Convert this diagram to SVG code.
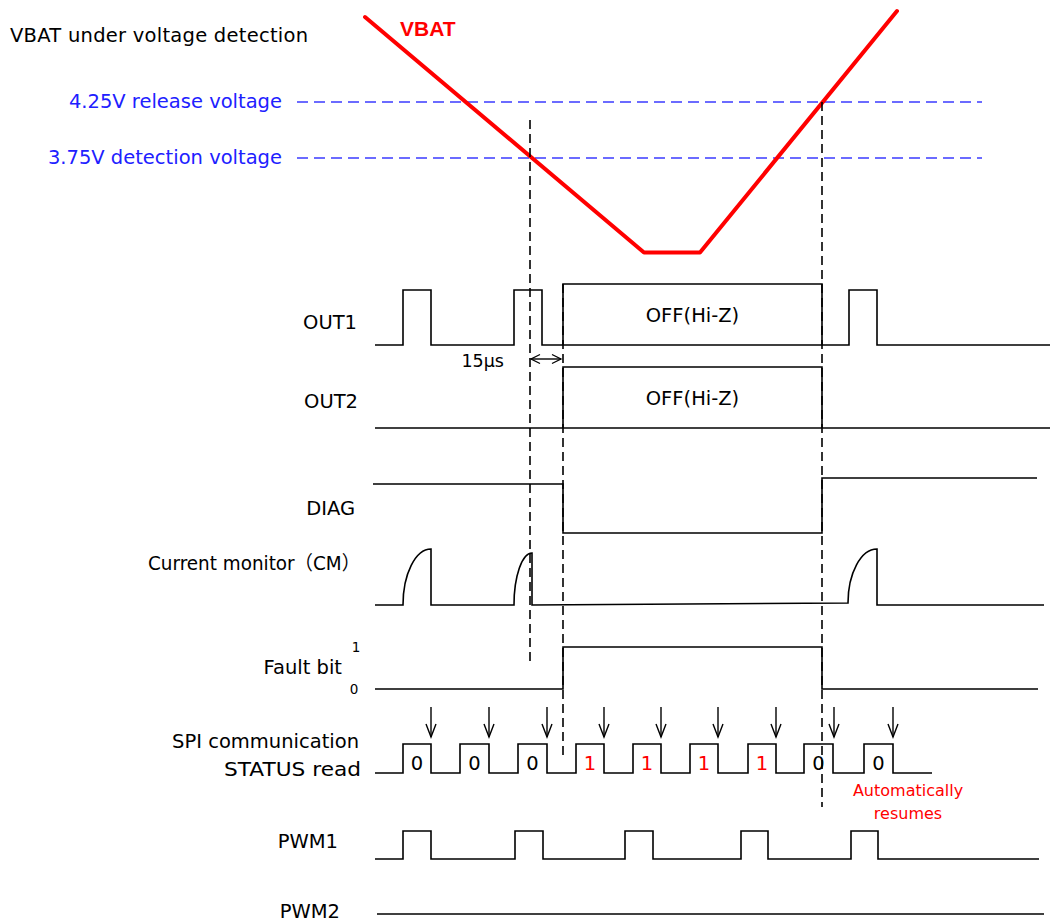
<svg xmlns="http://www.w3.org/2000/svg" width="1051" height="923" viewBox="0 0 1051 923">
<style>
text{font-family:"DejaVu Sans","Noto Sans CJK JP",sans-serif;font-size:19.5px;fill:#000}
.lbl{text-anchor:end}
.blue{fill:#2020ff}
.red{fill:#ff0000}
.mid{text-anchor:middle}
.sig{fill:none;stroke:#000;stroke-width:1.6}
.vdash{fill:none;stroke:#000;stroke-width:1.6;stroke-dasharray:9 5}
.hdash{fill:none;stroke:#3b3bff;stroke-width:1.6;stroke-dasharray:11 6}
.arr{fill:none;stroke:#000;stroke-width:1.4}
</style>
<defs>
<marker id="ah" viewBox="0 0 13 10" refX="13" refY="5" markerWidth="13" markerHeight="10" markerUnits="userSpaceOnUse" orient="auto-start-reverse" overflow="visible">
<path d="M0,0 L13,5 L0,10" fill="none" stroke="#000" stroke-width="1.4"/>
</marker>
<marker id="ahs" viewBox="0 0 9 9" refX="9" refY="4.5" markerWidth="9" markerHeight="9" markerUnits="userSpaceOnUse" orient="auto-start-reverse" overflow="visible">
<path d="M0,0 L9,4.5 L0,9" fill="none" stroke="#000" stroke-width="1.3"/>
</marker>
</defs>
<rect width="1051" height="923" fill="#fff"/>

<g id="title"><text x="10" y="42" textLength="298">VBAT under voltage detection</text></g>

<g id="thresholds">
<line class="hdash" x1="297" y1="102" x2="982" y2="102"/>
<line class="hdash" x1="297" y1="158" x2="982" y2="158"/>
<text class="lbl blue" x="282" y="108">4.25V release voltage</text>
<text class="lbl blue" x="282" y="164">3.75V detection voltage</text>
</g>

<g id="vbat">
<polyline points="365,17 644,252.5 700,252.5 897,11" fill="none" stroke="#ff0000" stroke-width="4" stroke-linecap="round" stroke-linejoin="round"/>
<text x="400" y="36" style="font-family:'Liberation Sans',Arial,sans-serif;font-weight:bold;font-size:21px;fill:#ff0000">VBAT</text>
</g>

<g id="connectors">
<line class="vdash" x1="530" y1="120" x2="530" y2="666"/>
<line class="vdash" x1="563" y1="284" x2="563" y2="757"/>
<line class="vdash" x1="822" y1="102" x2="822" y2="807"/>
<line class="arr" x1="531" y1="359" x2="561" y2="359" marker-start="url(#ahs)" marker-end="url(#ahs)"/>
<g id="spi-arrows">
<line class="arr" x1="431" y1="707" x2="431" y2="737" marker-end="url(#ah)"/>
<line class="arr" x1="489" y1="707" x2="489" y2="737" marker-end="url(#ah)"/>
<line class="arr" x1="547" y1="707" x2="547" y2="737" marker-end="url(#ah)"/>
<line class="arr" x1="604" y1="707" x2="604" y2="737" marker-end="url(#ah)"/>
<line class="arr" x1="661" y1="707" x2="661" y2="737" marker-end="url(#ah)"/>
<line class="arr" x1="718" y1="707" x2="718" y2="737" marker-end="url(#ah)"/>
<line class="arr" x1="776" y1="707" x2="776" y2="737" marker-end="url(#ah)"/>
<line class="arr" x1="834" y1="707" x2="834" y2="737" marker-end="url(#ah)"/>
<line class="arr" x1="893" y1="707" x2="893" y2="737" marker-end="url(#ah)"/>
</g>
</g>

<g id="out1">
<text class="lbl" x="357" y="329">OUT1</text>
<path class="sig" d="M375,345 H403 V290 H431 V345 H514 V290 H542 V345 H849 V290 H877 V345 H1050"/>
<path class="sig" d="M563,345 V284 H822 V345"/>
<text class="mid" x="692.5" y="322">OFF(Hi-Z)</text>
<text x="504" y="367" style="font-size:17.5px;text-anchor:end">15μs</text>
</g>

<g id="out2">
<text class="lbl" x="358" y="408">OUT2</text>
<path class="sig" d="M375,428 H1050"/>
<path class="sig" d="M563,428 V367 H822 V428"/>
<text class="mid" x="692.5" y="405">OFF(Hi-Z)</text>
</g>

<g id="diag">
<text class="lbl" x="355" y="515">DIAG</text>
<path class="sig" d="M373,484 H563 V533 H822 V478 H1037"/>
</g>

<g id="cm">
<text class="lbl" x="360" y="570" textLength="212" lengthAdjust="spacingAndGlyphs">Current monitor（CM）</text>
<path class="sig" d="M375,605 H403 A28,56 0 0 1 431,549 V605 H514 A18,52 0 0 1 532,553 V605 L848,603 A29,54 0 0 1 877,549 V605 H1044"/>
</g>

<g id="fault">
<text class="lbl" x="342" y="674">Fault bit</text>
<text class="mid" x="356" y="652" style="font-size:13.5px">1</text>
<text class="mid" x="354" y="694" style="font-size:13.5px">0</text>
<path class="sig" d="M375,689 H563 V647 H822 V689 H1038"/>
</g>

<g id="spi">
<text class="lbl" x="359" y="748">SPI communication</text>
<text class="lbl" x="361" y="776" textLength="137" lengthAdjust="spacingAndGlyphs">STATUS read</text>
<path class="sig" d="M375,773 H403 V744 H431 V773 H460 V744 H489 V773 H518 V744 H547 V773 H576 V744 H604 V773 H633 V744 H661 V773 H690 V744 H718 V773 H748 V744 H776 V773 H804 V744 H833 V773 H864 V744 H893 V773 H932"/>
<text class="mid" x="417" y="770">0</text>
<text class="mid" x="474.5" y="770">0</text>
<text class="mid" x="532.5" y="770">0</text>
<text class="mid red" x="590" y="770">1</text>
<text class="mid red" x="647" y="770">1</text>
<text class="mid red" x="704" y="770">1</text>
<text class="mid red" x="762" y="770">1</text>
<text class="mid" x="818.5" y="770">0</text>
<text class="mid" x="878.5" y="770">0</text>
<text class="mid red" x="908" y="796" style="font-size:16px">Automatically</text>
<text class="mid red" x="908" y="819" style="font-size:16px">resumes</text>
</g>

<g id="pwm1">
<text class="lbl" x="338" y="848">PWM1</text>
<path class="sig" d="M375,859 H403 V831 H431 V859 H515 V831 H543 V859 H625 V831 H653 V859 H741 V831 H768 V859 H851 V831 H878 V859 H1039"/>
</g>

<g id="pwm2">
<text class="lbl" x="340" y="918">PWM2</text>
<path class="sig" d="M377,914 H1044"/>
</g>
</svg>
